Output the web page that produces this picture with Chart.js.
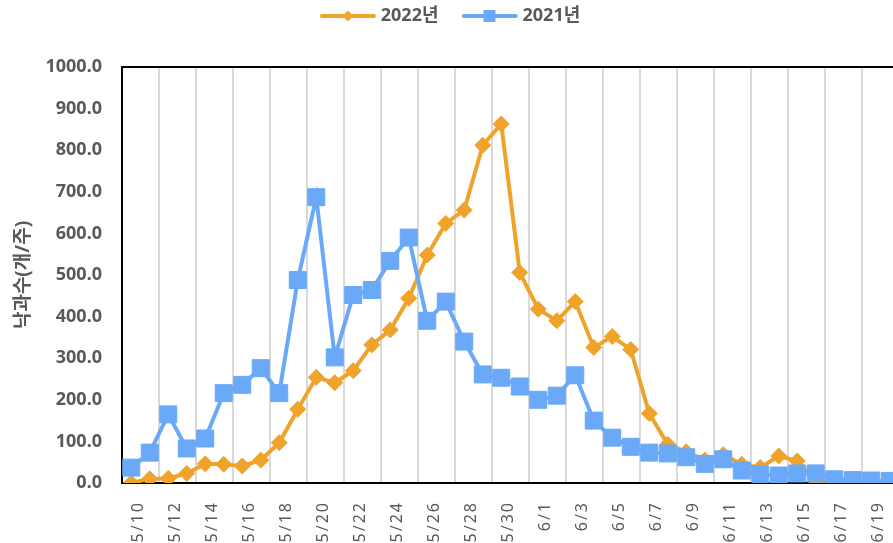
<!DOCTYPE html>
<html>
<head>
<meta charset="utf-8">
<script src="https://cdn.jsdelivr.net/npm/chart.js@4/dist/chart.umd.min.js"></script>
<style>
  html, body { margin: 0; padding: 0; overflow: hidden; background: #fff; }
  #wrap { width: 912px; height: 560px; }
</style>
</head>
<body>
<div id="wrap"><canvas id="myChart" width="912" height="560"></canvas></div>
<script>
const labels = [
  "5/10","5/11","5/12","5/13","5/14","5/15","5/16","5/17","5/18","5/19",
  "5/20","5/21","5/22","5/23","5/24","5/25","5/26","5/27","5/28","5/29",
  "5/30","5/31","6/1","6/2","6/3","6/4","6/5","6/6","6/7","6/8",
  "6/9","6/10","6/11","6/12","6/13","6/14","6/15","6/16","6/17","6/18",
  "6/19","6/20"
];
const y2022 = [
  0, 10, 11, 23, 46, 45, 41, 55, 97, 177,
  254, 241, 270, 332, 368, 444, 548, 624, 656, 812,
  863, 506, 418, 390, 436, 326, 352, 321, 167, 93,
  75, 55, 68, 45, 37, 65, 53, 5, 5, 3,
  4, 4
];
const y2021 = [
  37, 73, 165, 83, 107, 216, 236, 276, 216, 488,
  687, 302, 452, 464, 534, 590, 390, 436, 340, 261,
  253, 232, 200, 210, 259, 150, 109, 87, 73, 71,
  62, 46, 57, 30, 21, 18, 23, 23, 9, 7,
  6, 5
];
const yTicks = [0, 100, 200, 300, 400, 500, 600, 700, 800, 900, 1000];

const orange = "#F0A32B";
const blue = "#6AA9F7";
const gray = "#595959";
const fam = "'Noto Sans', 'Noto Sans CJK KR', sans-serif";

// legend swatch: line with marker in the middle
function swatch(color, shape) {
  const c = document.createElement("canvas");
  c.width = 56; c.height = 16;
  const g = c.getContext("2d");
  g.strokeStyle = color;
  g.lineWidth = 4;
  g.lineCap = "round";
  g.beginPath(); g.moveTo(2, 8); g.lineTo(54, 8); g.stroke();
  g.fillStyle = color;
  g.beginPath();
  if (shape === "diamond") {
    g.moveTo(28, 2.5); g.lineTo(33.5, 8); g.lineTo(28, 13.5); g.lineTo(22.5, 8);
  } else {
    g.rect(22, 2, 12, 12);
  }
  g.closePath(); g.fill();
  return c;
}
const swatches = [swatch(orange, "diamond"), swatch(blue, "square")];

const plotBorder = {
  id: "plotBorder",
  beforeDatasetsDraw(chart) {
    const {ctx, chartArea: a} = chart;
    ctx.save();
    ctx.strokeStyle = "#000";
    ctx.lineWidth = 2;
    ctx.strokeRect(a.left, a.top, a.right - a.left, a.bottom - a.top);
    ctx.restore();
  }
};

const tweaks = {
  id: "tweaks",
  beforeInit(chart) {
    const lg = chart.legend;
    const fit = lg.fit;
    lg.fit = function () {
      fit.call(this);
      this.height = 67;
    };
    const draw = lg.draw;
    lg.draw = function () {
      chart.ctx.save();
      chart.ctx.translate(-4, -20);
      draw.call(this);
      chart.ctx.restore();
    };
  },
  afterLayout(chart) {
    const x = chart.scales.x;
    if (x._spaced) return;
    const orig = x.drawLabels;
    x.drawLabels = function (area) {
      chart.ctx.save();
      chart.ctx.letterSpacing = "2px";
      orig.call(this, area);
      chart.ctx.restore();
    };
    x._spaced = true;
  }
};

const ctx = document.getElementById("myChart");
const myChart = new Chart(ctx, {
  type: "line",
  data: {
    labels: labels,
    datasets: [{
      label: "2022년",
      data: y2022,
      borderColor: orange,
      backgroundColor: orange,
      borderWidth: 4,
      pointStyle: "rectRot",
      pointRadius: 8,
      pointBorderWidth: 1,
      pointHoverRadius: 8,
      order: 1
    }, {
      label: "2021년",
      data: y2021,
      borderColor: blue,
      backgroundColor: blue,
      borderWidth: 4,
      pointStyle: "rect",
      pointRadius: 12,
      pointBorderWidth: 1,
      pointHoverRadius: 12,
      order: 0
    }]
  },
  options: {
    responsive: false,
    animation: false,
    layout: { padding: 0 },
    plugins: {
      tooltip: { enabled: false },
      legend: {
        position: "top",
        labels: {
          usePointStyle: true,
          pointStyleWidth: 48,
          padding: 27,
          color: gray,
          font: { family: fam, size: 18, weight: "bold" },
          generateLabels(chart) {
            return chart.data.datasets.map((ds, i) => ({
              text: ds.label,
              fillStyle: ds.borderColor,
              strokeStyle: ds.borderColor,
              lineWidth: 0,
              pointStyle: swatches[i],
              fontColor: gray,
              hidden: false,
              datasetIndex: i
            }));
          }
        }
      }
    },
    scales: {
      x: {
        offset: true,
        grid: {
          offset: true,
          drawTicks: false,
          lineWidth: 2,
          color: (c) => (c.index % 2 === 0 ? "#D9D9D9" : "rgba(0,0,0,0)")
        },
        border: { display: false },
        ticks: {
          autoSkip: false,
          minRotation: 90,
          maxRotation: 90,
          padding: 18,
          labelOffset: 7,
          color: gray,
          font: { family: fam, size: 16 },
          callback(v, i) { return i % 2 === 0 ? labels[i] : ""; }
        },
        afterFit(scale) {
          scale.height = 77;
          scale.paddingLeft = 0;
          scale.paddingRight = 0;
        }
      },
      y: {
        min: 0,
        max: 1000,
        afterBuildTicks(scale) { scale.ticks = yTicks.map(v => ({ value: v })); },
        grid: { display: false, drawTicks: false },
        border: { display: false },
        ticks: {
          padding: 20,
          color: gray,
          font: { family: fam, size: 18, weight: "bold" },
          callback(v) { return Number(v).toFixed(1); }
        },
        title: {
          display: true,
          text: "낙과수(개/주)",
          color: gray,
          padding: { top: 12, bottom: 0 },
          font: { family: fam, size: 19, weight: "bold" }
        },
        afterFit(scale) { scale.width = 122; }
      }
    }
  },
  plugins: [plotBorder, tweaks]
});
</script>
</body>
</html>
